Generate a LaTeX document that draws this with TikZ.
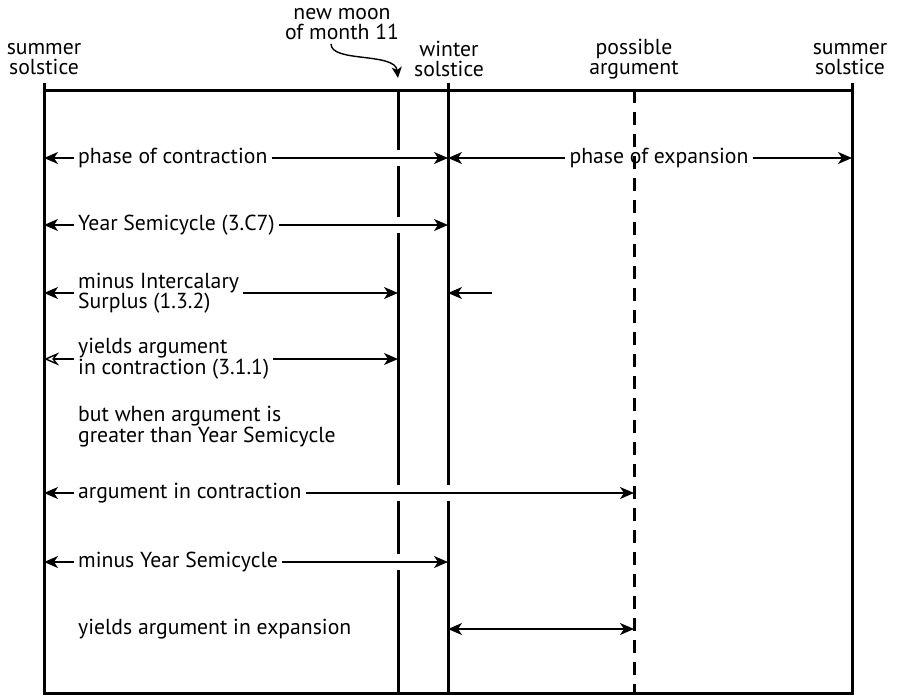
\documentclass[tikz,border=0pt]{standalone}
\usepackage{fontspec}
\setmainfont{PT Sans}
\usetikzlibrary{arrows.meta}
\begin{document}
\begin{tikzpicture}[x=1pt,y=-1pt,
  font=\fontsize{21.7}{20}\selectfont,
  lbl/.style={inner sep=4pt, anchor=west, align=left},
  toplbl/.style={inner sep=0pt, align=center},
  wall/.style={line width=3pt},
  tip/.style={-{Stealth[length=14pt,width=12pt,inset=4pt]}},
  arr/.style={line width=1.4pt, tip},
  halo/.style={preaction={draw=white, line width=16pt, -, shorten <=22pt, shorten >=22pt}},
]
\useasboundingbox (0,0) rectangle (897,697);

% x positions of the vertical lines
\coordinate (L) at (44,90);   % summer solstice
\coordinate (M) at (398,90);  % new moon of month 11
\coordinate (W) at (448,90);  % winter solstice
\coordinate (P) at (634,90);  % possible argument
\coordinate (R) at (852,90);  % summer solstice
\coordinate (B) at (44,693);  % bottom

% frame and vertical lines
\draw[wall] (L) rectangle (R |- B);
\draw[wall] ([yshift=7pt]L) -- (L);
\draw[wall] ([yshift=7pt]R) -- (R);
\draw[wall] (M) -- (M |- B);
\draw[wall] ([yshift=7pt]W) -- (W |- B);
\draw[wall, dash pattern=on 13pt off 9pt] (P) -- (P |- B);

% headings
\node[toplbl] (ss1) at (44,59) {summer\\solstice};
\node[toplbl] (nm) at (342,24) {new moon\\of month 11};
\node[toplbl] (ws) at (449,59) {winter\\solstice};
\node[toplbl] (pa) at (634,59) {possible\\argument};
\node[toplbl] (ss2) at (850,59) {summer\\solstice};
\draw[line width=1.4pt, -{Stealth[length=11pt,width=10pt,inset=3pt]}]
  ([xshift=-11pt,yshift=-4pt]nm.south) .. controls +(0,19) and +(-3,-26) .. ([yshift=12pt]M);

% phases
\node[lbl] (pc) at (74,158) {phase of contraction};
\draw[arr] (pc.west) -- (pc.west -| L);
\draw[arr, halo] (pc.east) -- (pc.east -| W);
\node[inner sep=4pt] (pe) at (659,158) {phase of expansion};
\draw[arr] (pe.west) -- (pe.west -| W);
\draw[arr] (pe.east) -- (pe.east -| R);

% year semicycle
\node[lbl] (ys) at (74,225) {Year Semicycle (3.C7)};
\draw[arr] (ys.west) -- (ys.west -| L);
\draw[arr, halo] (ys.east) -- (ys.east -| W);

% intercalary surplus
\node[lbl] (mi) at (74,293) {minus Intercalary\\Surplus (1.3.2)};
\draw[arr] (mi.west) -- (mi.west -| L);
\draw[arr] (mi.east) -- (mi.east -| M);
\coordinate (sp) at (492,293);
\draw[arr] (sp) -- (sp -| W);

% argument in contraction
\node[lbl] (ya) at (74,359) {yields argument\\in contraction (3.1.1)};
\draw[line width=1.4pt, -{Stealth[open,length=15pt,width=13pt,inset=5pt]}] (ya.west) -- (ya.west -| L);
\draw[arr] (ya.east) -- (ya.east -| M);

\node[lbl] (bw) at (74,427) {but when argument is\\greater than Year Semicycle};

\node[lbl] (ac) at (74,493) {argument in contraction};
\draw[arr] (ac.west) -- (ac.west -| L);
\draw[arr, halo] (ac.east) -- (ac.east -| P);

\node[lbl] (my) at (74,562) {minus Year Semicycle};
\draw[arr] (my.west) -- (my.west -| L);
\draw[arr, halo] (my.east) -- (my.east -| W);

\node[lbl] (ye) at (74,629) {yields argument in expansion};
\draw[line width=1.4pt, {Stealth[length=14pt,width=12pt,inset=4pt]}-{Stealth[length=14pt,width=12pt,inset=4pt]}]
  (ye.east -| W) -- (ye.east -| P);
\end{tikzpicture}
\end{document}
